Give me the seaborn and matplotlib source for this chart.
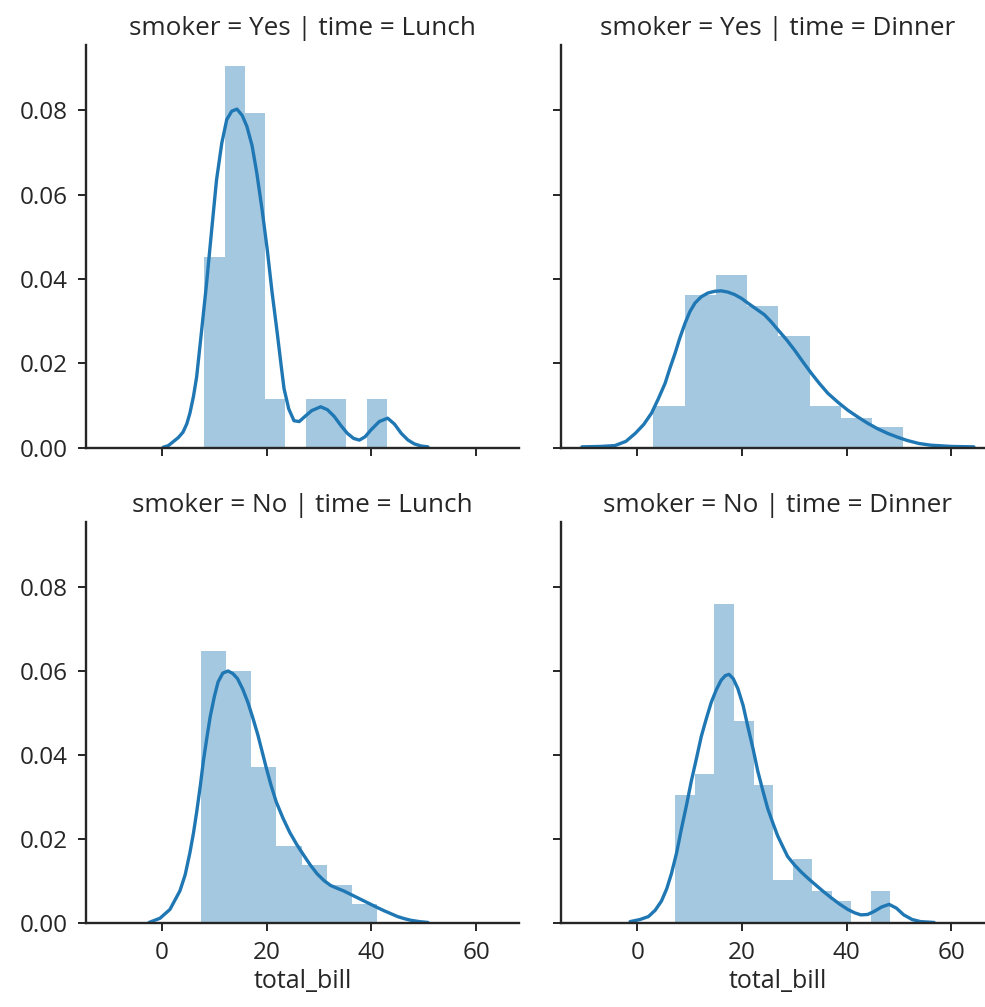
import numpy as np
import pandas as pd
import matplotlib
matplotlib.use("Agg")
import matplotlib.pyplot as plt
import seaborn as sns

# ---------------- data ----------------
# histogram bin edges (left edge + equal width) and densities per panel
yl_start, yl_width = 8.10, 3.87
yl_heights = [0.0453, 0.0905, 0.0793, 0.0115, 0.0, 0.0115, 0.0115, 0.0, 0.0115]
yl_kde_x = [0.2, 1.2, 2.1, 3.1, 4.0, 4.7, 5.3, 6.0, 6.6, 7.5, 8.5, 9.5, 10.4, 11.4, 12.35,
            13.3, 14.3, 15.3, 16.2, 17.2, 18.1, 19.1, 20.1, 21.0, 22.0, 22.7, 23.3, 24.2,
            25.2, 26.2, 27.1, 28.6, 30.3, 31.6, 32.9, 34.2, 35.4, 36.6, 37.7, 38.8, 39.9,
            41.5, 43.1, 44.4, 45.7, 47.0, 48.2, 49.5, 50.8]
yl_kde_y = [0.0001, 0.0005, 0.0014, 0.0024, 0.0037, 0.0056, 0.0081, 0.0122, 0.0168, 0.0272,
            0.0390, 0.0520, 0.0635, 0.0722, 0.0778, 0.0798, 0.0803, 0.0788, 0.0762, 0.0716,
            0.0651, 0.0565, 0.0469, 0.0370, 0.0272, 0.0200, 0.0140, 0.0092, 0.0064, 0.0062,
            0.0072, 0.0088, 0.0097, 0.0090, 0.0074, 0.0052, 0.0034, 0.0022, 0.0018, 0.0026,
            0.0042, 0.0062, 0.0070, 0.0056, 0.0034, 0.0018, 0.0009, 0.0004, 0.0002]

yd_start, yd_width = 3.07, 5.9675
yd_heights = [0.0098, 0.0361, 0.0409, 0.0335, 0.0264, 0.0098, 0.0071, 0.0048]
yd_kde_x = [-10.6, -7.0, -4.3, -2.2, -0.4, 1.2, 2.7, 4.0, 5.3, 6.2, 7.2, 8.1, 9.1, 10.0, 11.0,
            12.2, 13.5, 14.8, 16.0, 17.3, 18.6, 19.9, 21.1, 22.7, 24.3, 25.6, 26.9, 28.5,
            30.0, 31.6, 33.2, 34.8, 36.4, 38.3, 40.2, 42.1, 44.0, 45.9, 47.8, 49.7, 51.6,
            53.8, 56.0, 60.0, 64.3]
yd_kde_y = [0.0002, 0.0003, 0.0005, 0.0015, 0.0034, 0.0055, 0.0082, 0.0116, 0.0153, 0.0188,
            0.0224, 0.0260, 0.0295, 0.0322, 0.0343, 0.0358, 0.0367, 0.0371, 0.0372, 0.0369,
            0.0363, 0.0354, 0.0343, 0.0329, 0.0315, 0.0298, 0.0279, 0.0256, 0.0232, 0.0204,
            0.0177, 0.0152, 0.0129, 0.0108, 0.0089, 0.0073, 0.0058, 0.0045, 0.0034, 0.0025,
            0.0017, 0.0010, 0.0006, 0.0003, 0.0002]

nl_start, nl_width = 7.35, 4.83
nl_heights = [0.0647, 0.0601, 0.0372, 0.0185, 0.0139, 0.0092, 0.0046]
nl_kde_x = [-2.5, -0.4, 1.5, 3.4, 4.4, 5.3, 6.0, 6.6, 7.3, 7.9, 8.6, 9.2, 10.0, 10.7, 11.6,
            12.6, 13.5, 14.4, 15.4, 16.4, 17.3, 18.3, 19.1, 19.9, 20.8, 21.8, 23.1, 24.4,
            25.7, 27.0, 28.3, 29.6, 30.9, 32.2, 33.5, 34.7, 36.0, 37.3, 38.6, 39.9, 41.2,
            42.4, 43.7, 45.0, 46.3, 47.6, 49.2, 50.8]
nl_kde_y = [0.0002, 0.0012, 0.0033, 0.0077, 0.0115, 0.0167, 0.0215, 0.0264, 0.0327, 0.0387,
            0.0445, 0.0492, 0.0540, 0.0574, 0.0595, 0.0600, 0.0594, 0.0582, 0.0557, 0.0525,
            0.0490, 0.0448, 0.0409, 0.0370, 0.0329, 0.0289, 0.0250, 0.0216, 0.0188, 0.0163,
            0.0139, 0.0118, 0.0102, 0.0090, 0.0083, 0.0077, 0.0069, 0.0061, 0.0053, 0.0045,
            0.0037, 0.0030, 0.0023, 0.0016, 0.0011, 0.0007, 0.0004, 0.0002]

nd_start, nd_width = 7.25, 3.735
nd_heights = [0.0304, 0.0355, 0.0760, 0.0481, 0.0330, 0.0103, 0.0154, 0.0077, 0.0052, 0.0, 0.0077]
nd_kde_x = [-1.4, 0.5, 2.1, 3.4, 4.6, 5.6, 6.5, 7.5, 8.4, 9.4, 10.3, 11.3, 12.2, 13.2, 14.1,
            15.1, 16.0, 16.8, 17.5, 18.3, 19.2, 20.2, 21.1, 22.1, 23.0, 24.0, 24.9, 25.9,
            26.8, 27.8, 28.7, 30.0, 31.3, 32.6, 33.8, 35.4, 37.0, 38.6, 40.2, 41.5, 42.7,
            44.0, 45.2, 46.7, 48.1, 49.5, 50.9, 52.5, 54.1, 56.7]
nd_kde_y = [0.0004, 0.0009, 0.0016, 0.0031, 0.0053, 0.0082, 0.0118, 0.0168, 0.0224, 0.0282,
            0.0338, 0.0393, 0.0444, 0.0488, 0.0525, 0.0556, 0.0578, 0.0589, 0.0592, 0.0582,
            0.0558, 0.0518, 0.0468, 0.0415, 0.0362, 0.0314, 0.0273, 0.0238, 0.0208, 0.0182,
            0.0159, 0.0139, 0.0122, 0.0107, 0.0094, 0.0077, 0.0061, 0.0046, 0.0033, 0.0025,
            0.0020, 0.0021, 0.0028, 0.0039, 0.0045, 0.0036, 0.0020, 0.0009, 0.0004, 0.0002]

smokers = ["Yes", "No"]
times = ["Lunch", "Dinner"]
x_ticks = [0, 20, 40, 60]
y_ticks = [0.00, 0.02, 0.04, 0.06, 0.08]
x_label = "total_bill"

panels = {
    ("Yes", "Lunch"): (yl_start, yl_width, yl_heights, yl_kde_x, yl_kde_y),
    ("Yes", "Dinner"): (yd_start, yd_width, yd_heights, yd_kde_x, yd_kde_y),
    ("No", "Lunch"): (nl_start, nl_width, nl_heights, nl_kde_x, nl_kde_y),
    ("No", "Dinner"): (nd_start, nd_width, nd_heights, nd_kde_x, nd_kde_y),
}

# ---------------- style ----------------
sns.set_theme(style="ticks")
plt.rcParams["font.family"] = ["Open Sans", "DejaVu Sans"]
text_color = "#262626"
blue = "#1f77b4"

W, H = 985, 1007
fig = plt.figure(figsize=(W / 100, H / 100), dpi=100)

col_left = [85.7, 561.0]
ax_w = 433.3
row_top = [45.0, 521.7]
ax_h = [402.7, 401.6]

XLIM = (-14.6, 68.2)
YLIM = (0, 0.0955)

for r, smk in enumerate(smokers):
    for c, tm in enumerate(times):
        rect = [col_left[c] / W, 1 - (row_top[r] + ax_h[r]) / H, ax_w / W, ax_h[r] / H]
        ax = fig.add_axes(rect)
        start, width, heights, kx, ky = panels[(smk, tm)]
        edges = start + width * np.arange(len(heights) + 1)
        hist_df = pd.DataFrame({"center": (edges[:-1] + edges[1:]) / 2,
                                "density": heights})
        sns.histplot(data=hist_df, x="center", weights="density", bins=list(edges),
                     ax=ax, color=blue, alpha=0.4, linewidth=0, stat="count")
        kde_df = pd.DataFrame({"x": kx, "y": ky})
        sns.lineplot(data=kde_df, x="x", y="y", ax=ax, color=blue, linewidth=2.4,
                     sort=False)
        ax.set_xlim(*XLIM)
        ax.set_ylim(*YLIM)
        ax.set_xticks(x_ticks)
        ax.set_yticks(y_ticks)
        ax.set_ylabel("")
        sns.despine(ax=ax)
        for s in ["left", "bottom"]:
            ax.spines[s].set_linewidth(1.7)
            ax.spines[s].set_color(text_color)
        ax.tick_params(axis="both", length=5.8, width=1.4, color=text_color,
                       labelsize=17.5, labelcolor=text_color, pad=7)
        if c == 0:
            ax.set_yticklabels([f"{v:.2f}" for v in y_ticks])
        else:
            ax.set_yticklabels([])
        if r == 1:
            ax.set_xticklabels([str(v) for v in x_ticks])
            ax.set_xlabel(x_label, fontsize=18, color=text_color, labelpad=3)
        else:
            ax.set_xticklabels([])
            ax.set_xlabel("")
        ax.set_title(f"smoker = {smk} | time = {tm}", fontsize=18.8,
                     color=text_color, pad=7)

fig.savefig("out.png", dpi=100)
